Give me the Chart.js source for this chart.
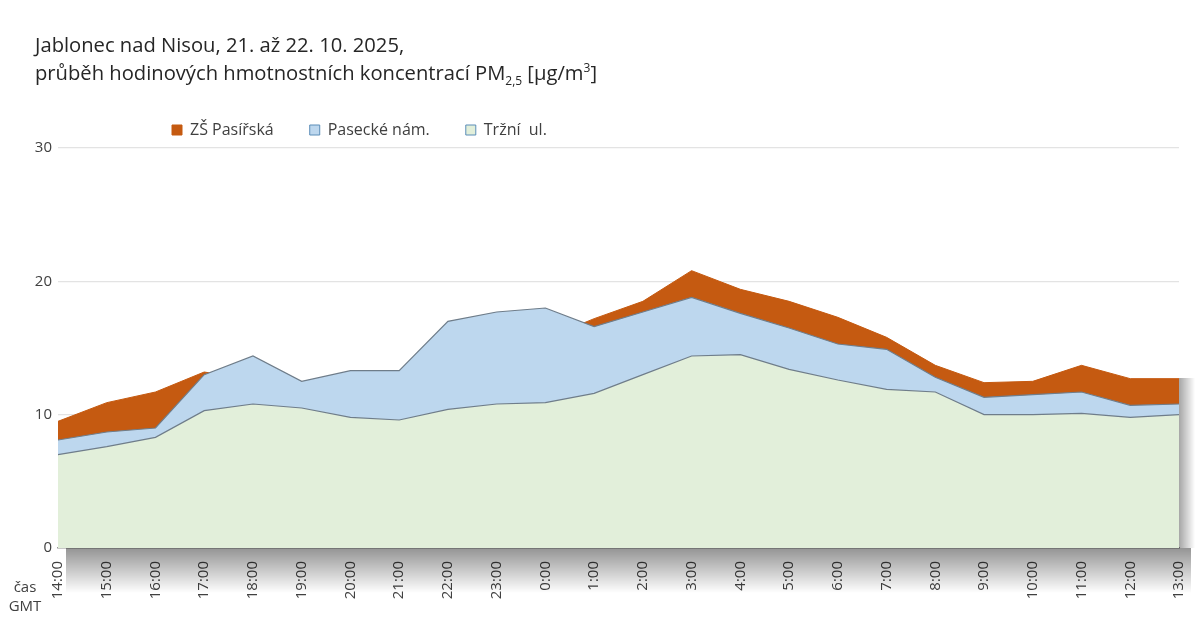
<!DOCTYPE html>
<html lang="cs">
<head>
  <meta charset="UTF-8">
  <title>Jablonec nad Nisou PM2,5</title>
  <script src="https://cdn.jsdelivr.net/npm/chart.js"></script>
  <style>
    html, body {
      margin: 0;
      padding: 0;
      background: #fff;
      font-family: "Open Sans", sans-serif;
    }
    .wrap {
      position: relative;
      width: 1202px;
      height: 619px;
    }
    .title {
      position: absolute;
      left: 35px;
      top: 30px;
      font-size: 20.2px;
      line-height: 28px;
      color: #262626;
      margin: 0;
      font-weight: normal;
    }
    .title sub, .title sup { font-size: 12px; line-height: 0; }
    .cas {
      position: absolute;
      left: 0;
      top: 577px;
      width: 50px;
      text-align: center;
      font-size: 15px;
      line-height: 19px;
      color: #404040;
    }
    canvas { position: absolute; left: 0; top: 0; }
  </style>
</head>
<body>
  <div class="wrap">
    <canvas id="pm" width="1202" height="619"></canvas>
    <div class="title">Jablonec nad Nisou, 21. až 22. 10. 2025,<br>průběh hodinových hmotnostních koncentrací PM<sub>2,5</sub> [µg/m<sup>3</sup>]</div>
    <div class="cas">čas<br>GMT</div>
  </div>

  <script>
    const hours = ['14:00', '15:00', '16:00', '17:00', '18:00', '19:00', '20:00', '21:00', '22:00', '23:00',
                   '0:00', '1:00', '2:00', '3:00', '4:00', '5:00', '6:00', '7:00', '8:00', '9:00',
                   '10:00', '11:00', '12:00', '13:00'];

    // ZŠ Pasířská (hidden behind the others where lower)
    const zsPasirska = [9.5, 10.9, 11.7, 13.2, 12.6, 12.2, 12.6, 12.9, 14.3, 15.0,
                        15.7, 17.2, 18.5, 20.8, 19.4, 18.5, 17.3, 15.8, 13.7, 12.4,
                        12.5, 13.7, 12.7, 12.7];
    // Pasecké nám.
    const paseckeNam = [8.1, 8.7, 9.0, 13.0, 14.4, 12.5, 13.3, 13.3, 17.0, 17.7,
                        18.0, 16.6, 17.7, 18.8, 17.6, 16.5, 15.3, 14.9, 12.8, 11.3,
                        11.5, 11.7, 10.7, 10.8];
    // Tržní ul.
    const trzniUl = [7.0, 7.6, 8.3, 10.3, 10.8, 10.5, 9.8, 9.6, 10.4, 10.8,
                     10.9, 11.6, 13.0, 14.4, 14.5, 13.4, 12.6, 11.9, 11.7, 10.0,
                     10.0, 10.1, 9.8, 10.0];

    const yTicks = [0, 10, 20, 30];

    // soft shadow under the plot, like the original picture
    const shadowPlugin = {
      id: 'plotShadow',
      beforeDatasetsDraw(chart) {
        const { ctx, chartArea } = chart;
        ctx.save();
        let g = ctx.createLinearGradient(0, chartArea.bottom, 0, chartArea.bottom + 45);
        g.addColorStop(0, 'rgba(0,0,0,0.42)');
        g.addColorStop(1, 'rgba(0,0,0,0)');
        ctx.fillStyle = g;
        ctx.fillRect(chartArea.left + 8, chartArea.bottom, chartArea.right - chartArea.left + 4, 45);
        g = ctx.createLinearGradient(chartArea.right, 0, chartArea.right + 16, 0);
        g.addColorStop(0, 'rgba(0,0,0,0.35)');
        g.addColorStop(1, 'rgba(0,0,0,0)');
        ctx.fillStyle = g;
        ctx.fillRect(chartArea.right, chartArea.top + 230, 16, chartArea.bottom - chartArea.top - 230);
        ctx.restore();
      },
      afterLayout(chart) {
        // legend sits left of centre in the original
        const lg = chart.legend;
        const w = lg.right - lg.left;
        lg.left = 136;
        lg.right = 136 + w;
      }
    };

    const ctx = document.getElementById('pm').getContext('2d');
    new Chart(ctx, {
      type: 'line',
      data: {
        labels: hours,
        datasets: [
          {
            label: 'ZŠ Pasířská',
            data: zsPasirska,
            backgroundColor: '#C55A11',
            borderColor: '#C55A11',
            borderWidth: 1,
            fill: 'origin',
            pointRadius: 0,
            tension: 0,
            order: 3
          },
          {
            label: 'Pasecké nám.',
            data: paseckeNam,
            backgroundColor: '#BDD7EE',
            borderColor: '#6F7D8A',
            borderWidth: 1.2,
            fill: 'origin',
            pointRadius: 0,
            tension: 0,
            order: 2
          },
          {
            label: 'Tržní  ul.',
            data: trzniUl,
            backgroundColor: '#E2EFDA',
            borderColor: '#6F7D8A',
            borderWidth: 1.2,
            fill: 'origin',
            pointRadius: 0,
            tension: 0,
            order: 1
          }
        ]
      },
      options: {
        responsive: false,
        animation: false,
        layout: { padding: { top: 86, right: 23, bottom: 0, left: 0 } },
        plugins: {
          legend: {
            position: 'top',
            align: 'start',
            labels: {
              boxWidth: 10,
              boxHeight: 10,
              padding: 36,
              color: '#404040',
              font: { family: '"Open Sans", sans-serif', size: 16 },
              sort: (a, b) => a.datasetIndex - b.datasetIndex,
              generateLabels(chart) {
                return chart.data.datasets.map((d, i) => ({
                  text: d.label,
                  fillStyle: d.backgroundColor,
                  strokeStyle: i === 0 ? d.backgroundColor : '#5B8DB8',
                  lineWidth: 1,
                  datasetIndex: i,
                  hidden: false,
                  fontColor: '#404040'
                }));
              }
            }
          },
          tooltip: { enabled: false }
        },
        scales: {
          x: {
            offset: false,
            grid: { display: false, drawTicks: false },
            border: { display: true, color: '#9a9a9a', width: 1.5 },
            ticks: {
              minRotation: 90,
              maxRotation: 90,
              autoSkip: false,
              padding: 13,
              color: '#404040',
              font: { family: '"Open Sans", sans-serif', size: 15 }
            },
            afterFit: s => { s.height = 71; s.paddingLeft = 0; s.paddingRight = 0; }
          },
          y: {
            min: 0,
            max: 30,
            afterBuildTicks: s => { s.ticks = yTicks.map(v => ({ value: v })); },
            grid: { color: '#e3e3e3', drawTicks: false, lineWidth: 1.2 },
            border: { display: false },
            ticks: {
              padding: 6,
              color: '#404040',
              font: { family: '"Open Sans", sans-serif', size: 15 }
            },
            afterFit: s => { s.width = 58; }
          }
        }
      },
      plugins: [shadowPlugin]
    });
  </script>
</body>
</html>
